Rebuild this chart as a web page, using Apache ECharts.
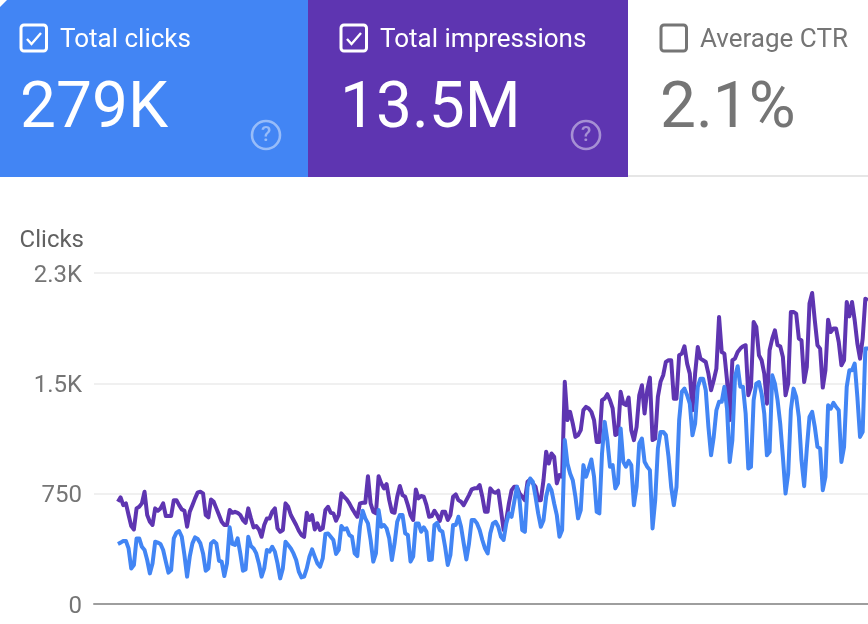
<!DOCTYPE html>
<html>
<head>
<meta charset="utf-8">
<title>Search performance</title>
<script src="https://cdn.jsdelivr.net/npm/echarts@6/dist/echarts.min.js"></script>
<style>
html, body { margin: 0; padding: 0; background: #fff; }
#perf_graph { width: 868px; height: 624px; }
</style>
</head>
<body>
<div id="perf_graph"></div>
<script>
var myChart = echarts.init(document.getElementById('perf_graph'));

// daily values
var impressions = [
  695,725,672,684,605,530,507,650,661,684,763,605,559,537,650,634,650,684,598,598,598,706,706,672,643,634,525,627,672,718,759,763,752,605,589,711,695,650,605,559,537,537,639,620,627,620,605,571,552,650,582,521,530,507,457,537,582,582,627,650,514,491,503,684,661,
  605,571,537,498,469,457,620,571,605,507,548,503,514,639,661,620,616,566,605,752,729,711,684,650,620,593,684,688,688,869,684,627,616,869,820,786,815,706,627,620,729,802,740,729,672,605,571,779,718,734,729,672,593,598,634,605,564,627,627,571,605,729,745,706,695,672,706,740,779,786,786,
  808,729,627,627,786,763,756,770,638,503,570,684,774,797,797,752,729,706,831,847,820,797,706,706,842,1035,955,1023,1001,820,876,865,1510,1250,1306,1227,1136,1148,1182,1318,1340,1329,1306,1250,1102,1102,1385,1397,1426,1385,1329,1148,1159,1442,1363,1352,1404,1182,1114,1204,1419,1487,1295,1453,1539,1114,1125,1408,1510,1555,1646,1657,
  1657,1396,1396,1691,1702,1752,1634,1566,1317,1566,1747,1668,1657,1645,1566,1453,1521,1600,1951,1713,1702,1521,1249,1657,1668,1713,1736,1752,1759,1419,1476,1917,1883,1691,1657,1566,1362,1725,1804,1860,1759,1752,1679,1419,1498,1985,1985,1974,1804,1792,1509,1611,2042,2114,1928,1759,1736,1471,1589,1933,1849,1872,1872,1781,1623,1657,2053,1955,2053,1928,1770,1668,1804,2075,2064
];
var clicks = [
  408,417,428,428,378,242,265,446,446,389,367,299,208,276,423,417,408,367,288,213,231,446,485,496,457,333,186,322,412,453,442,412,344,226,242,412,428,412,294,288,190,276,521,408,401,446,344,226,235,457,394,378,344,276,186,242,367,356,389,356,276,174,242,423,401,
  378,344,299,220,181,186,242,322,371,322,276,254,310,476,480,457,435,340,367,530,507,514,469,457,344,326,525,634,582,548,435,288,344,639,525,537,514,446,299,412,559,605,605,480,469,288,322,548,548,491,521,491,299,303,537,552,503,491,389,265,333,537,537,593,525,412,303,412,571,571,548,
  503,435,378,344,480,548,559,525,457,435,548,616,593,695,797,706,503,491,797,853,831,729,616,525,570,729,808,774,684,604,457,503,1114,955,887,842,729,582,638,944,865,921,982,865,627,616,1023,1238,1114,933,944,786,820,1193,967,933,973,944,672,797,1091,1125,967,933,910,514,706,1057,1170,1170,1148,1001,
  796,672,796,1249,1442,1464,1419,1362,1147,1226,1476,1532,1532,1453,1204,1011,1136,1317,1374,1374,1476,1328,966,1113,1543,1616,1476,1476,1294,921,932,1385,1498,1509,1430,1294,1011,1034,1555,1498,1385,1226,1000,751,887,1317,1464,1408,1272,977,801,1057,1272,1306,1204,1068,1057,774,864,1351,1328,1367,1340,1317,966,1068,1476,1589,1589,1634,1408,1136,1170,1736,1736
];

// empty days in front of the first point
var lead = 9;
var days = [];
var total = lead + Math.max(impressions.length, clicks.length);
for (var i = 0; i < total; i++) {
    days.push(String(i));
}
function pad(list) {
    var out = [];
    for (var i = 0; i < lead; i++) {
        out.push(null);
    }
    return out.concat(list);
}

// top tiles: x, w is the background, cx where the content starts
var fontName = 'Roboto';
function tile(x, w, cx, color, title, value, checked, help) {
    var fg = checked ? '#ffffff' : '#757575';
    var items = [
        { type: 'rect', shape: { x: x, y: 0, width: w, height: 177 }, style: { fill: color } },
        { type: 'rect', shape: { x: cx + 21, y: 25, width: 25.5, height: 26, r: 3 },
          style: { fill: 'none', stroke: fg, lineWidth: 3 } },
        { type: 'text', x: cx + 60, y: 40, style: { text: title, fill: fg, font: '26px ' + fontName, verticalAlign: 'middle' } },
        { type: 'text', x: cx + 20, y: 111, style: { text: value, fill: fg, font: '64px ' + fontName, verticalAlign: 'middle' } }
    ];
    if (checked) {
        items.push({ type: 'polyline', shape: { points: [[cx + 27, 39], [cx + 31.5, 44], [cx + 41, 33]] },
          style: { fill: 'none', stroke: fg, lineWidth: 2.4 } });
    }
    if (help) {
        items.push({ type: 'circle', shape: { cx: help, cy: 135, r: 14 },
          style: { fill: 'none', stroke: 'rgba(255,255,255,0.45)', lineWidth: 2.6 } });
        items.push({ type: 'text', x: help, y: 136, style: { text: '?', fill: 'rgba(255,255,255,0.45)', font: '500 21px ' + fontName, align: 'center', verticalAlign: 'middle' } });
    }
    return items;
}
var tiles = []
    .concat(tile(0, 308, 0, '#4285f4', 'Total clicks', '279K', true, 266))
    .concat(tile(308, 320, 320, '#5e35b1', 'Total impressions', '13.5M', true, 586))
    .concat(tile(628, 240, 640, '#ffffff', 'Average CTR', '2.1%', false, 0));
tiles.push({ type: 'rect', shape: { x: 628, y: 175, width: 240, height: 2 }, style: { fill: '#e6e6e6' } });
tiles.push({ type: 'polygon', shape: { points: [[0, 0], [7, 0], [0, 7]] }, style: { fill: '#ffffff' } });

var option = {
    animation: false,
    backgroundColor: '#ffffff',
    textStyle: { fontFamily: fontName },
    grid: { left: 94, right: 0, top: 273, bottom: 20 },
    xAxis: {
        type: 'category',
        data: days,
        boundaryGap: false,
        axisTick: { show: false },
        axisLabel: { show: false },
        axisLine: { lineStyle: { color: '#9e9e9e', width: 2 } }
    },
    yAxis: {
        type: 'value',
        name: 'Clicks',
        nameLocation: 'end',
        nameGap: 20,
        nameTextStyle: { color: '#616161', fontSize: 24, align: 'right', padding: [0, 10, 0, 0], fontFamily: fontName },
        min: 0,
        max: 2250,
        interval: 750,
        axisLine: { show: false },
        axisTick: { show: false },
        axisLabel: {
            color: '#757575',
            fontSize: 24,
            margin: 12,
            verticalAlign: 'top',
            lineHeight: 5,
            fontFamily: fontName,
            formatter: function (value) {
                if (value == 0) { return '0'; }
                if (value == 750) { return '750'; }
                return (value / 1000).toFixed(1) + 'K';
            }
        },
        splitLine: { lineStyle: { color: '#f0f0f0', width: 2 } }
    },
    series: [
        {
            name: 'Impressions', type: 'line', data: pad(impressions), showSymbol: false,
            lineStyle: { color: '#5e35b1', width: 4, join: 'round' }, itemStyle: { color: '#5e35b1' }
        },
        {
            name: 'Clicks', type: 'line', data: pad(clicks), showSymbol: false,
            lineStyle: { color: '#4285f4', width: 4, join: 'round' }, itemStyle: { color: '#4285f4' }
        }
    ],
    graphic: tiles
};
myChart.setOption(option);
</script>
</body>
</html>
